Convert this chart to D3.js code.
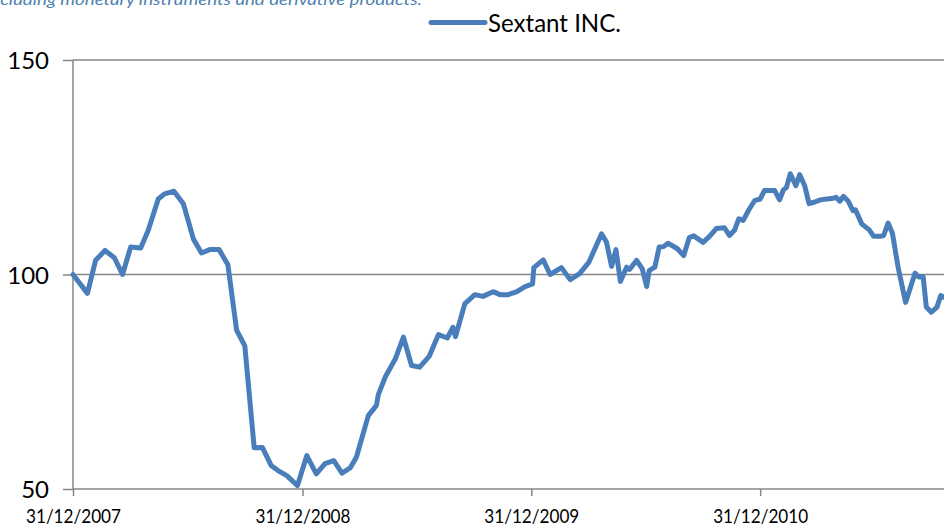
<!DOCTYPE html>
<html>
<head>
<meta charset="utf-8">
<script src="https://cdn.jsdelivr.net/npm/d3@7"></script>
<style>
  html, body { margin: 0; padding: 0; background: #fff; overflow: hidden; }
  svg { display: block; }
  text { font-family: Lato, "Open Sans", "DejaVu Sans", sans-serif; fill: #000; }
</style>
</head>
<body>
<svg id="chart" width="944" height="528"></svg>
<script>
// ---- data ----
const seriesName = "Sextant INC.";
const noteText = "including monetary instruments and derivative products.";
const dates = [
  "2007-12-31","2008-01-23","2008-02-05","2008-02-20","2008-03-06","2008-03-19","2008-04-01","2008-04-17",
  "2008-04-29","2008-05-15","2008-05-25","2008-06-09","2008-06-24","2008-07-10","2008-07-23","2008-08-05",
  "2008-08-20","2008-09-03","2008-09-17","2008-09-30","2008-10-15","2008-10-28","2008-11-11","2008-11-22",
  "2008-12-06","2008-12-23","2009-01-07","2009-01-22","2009-02-05","2009-02-19","2009-03-04","2009-03-17",
  "2009-03-27","2009-04-15","2009-04-28","2009-05-01","2009-05-12","2009-05-28","2009-06-10","2009-06-23",
  "2009-07-06","2009-07-21","2009-08-05","2009-08-19","2009-08-28","2009-09-01","2009-09-16","2009-10-02",
  "2009-10-15","2009-10-31","2009-11-11","2009-11-24","2009-12-08","2009-12-21","2010-01-02","2010-01-04",
  "2010-01-19","2010-01-30","2010-02-17","2010-03-03","2010-03-18","2010-04-02","2010-04-22","2010-04-30",
  "2010-05-08","2010-05-15","2010-05-22","2010-06-01","2010-06-06","2010-06-17","2010-06-26","2010-07-03",
  "2010-07-07","2010-07-16","2010-07-23","2010-07-30","2010-08-06","2010-08-21","2010-08-31","2010-09-09",
  "2010-09-16","2010-10-01","2010-10-12","2010-10-22","2010-11-04","2010-11-12","2010-11-20","2010-11-27",
  "2010-12-04","2010-12-13","2010-12-22","2010-12-31","2011-01-07","2011-01-23","2011-01-31","2011-02-06",
  "2011-02-11","2011-02-17","2011-02-26","2011-03-04","2011-03-12","2011-03-19","2011-03-28","2011-04-06",
  "2011-04-16","2011-04-24","2011-05-01","2011-05-07","2011-05-13","2011-05-20","2011-05-28","2011-06-01",
  "2011-06-11","2011-06-23","2011-06-30","2011-07-10","2011-07-16","2011-07-23","2011-07-30","2011-08-08",
  "2011-08-20","2011-09-04","2011-09-10","2011-09-17","2011-09-22","2011-09-30","2011-10-09","2011-10-15",
  "2011-10-20"
];
const values = [
  100.0, 95.6, 103.3, 105.6, 103.9, 100.0, 106.4, 106.2,
  110.3, 117.6, 118.8, 119.4, 116.5, 108.3, 105.0, 105.8,
  105.8, 102.3, 87.0, 83.4, 59.6, 59.7, 55.5, 54.3,
  53.1, 50.8, 57.8, 53.5, 55.9, 56.6, 53.7, 54.9,
  57.4, 67.1, 69.5, 72.0, 76.1, 80.3, 85.4, 78.8,
  78.4, 80.9, 86.0, 85.2, 87.7, 85.5, 93.2, 95.3,
  94.9, 96.0, 95.3, 95.3, 96.0, 97.2, 97.8, 101.6,
  103.4, 100.0, 101.6, 98.8, 100.2, 102.9, 109.5, 107.5,
  101.9, 105.8, 98.4, 101.7, 101.2, 103.3, 101.3, 97.2,
  100.9, 101.7, 106.4, 106.5, 107.3, 106.0, 104.4, 108.6,
  109.0, 107.5, 109.0, 110.7, 110.9, 109.1, 110.3, 113.0,
  112.6, 115.1, 117.2, 117.6, 119.6, 119.6, 117.4, 119.7,
  120.3, 123.5, 120.7, 123.3, 120.7, 116.5, 116.9, 117.4,
  117.6, 117.7, 118.0, 117.1, 118.2, 117.2, 114.9, 115.1,
  111.8, 110.4, 108.9, 108.9, 109.1, 112.0, 109.6, 101.7,
  93.5, 100.3, 99.4, 99.5, 92.4, 91.2, 92.4, 95.1,
  94.7
];
const xTickDates = ["2007-12-31","2008-12-31","2009-12-31","2010-12-31"];
const xDomain = ["2007-12-31","2011-12-31"];
const yTicks = [50, 100, 150];
const yDomain = [50, 150];

// ---- drawing ----
(function () {
  const parse = d3.timeParse("%Y-%m-%d");
  const fmt = d3.timeFormat("%d/%m/%Y");
  const data = dates.map((d, i) => ({ date: parse(d), value: values[i] }));

  const svg = d3.select("#chart");
  const W = 944;
  const mLeft = 73, mTop = 60, mBottom = 489;
  const yearPx = 229;

  const x = d3.scaleTime().domain(xDomain.map(parse)).range([mLeft, mLeft + 4 * yearPx]);
  const y = d3.scaleLinear().domain(yDomain).range([mBottom, mTop]);

  const axisColor = "#868686";

  // note text (partially cut off at top, as in the source)
  svg.append("text")
    .attr("x", -14).attr("y", 5)
    .attr("textLength", 436).attr("lengthAdjust", "spacingAndGlyphs")
    .style("font-style", "italic")
    .style("font-size", "16px")
    .style("fill", "#4f7fb0")
    .text(noteText);

  // gridlines
  svg.append("g")
    .selectAll("line")
    .data(yTicks.filter(t => t !== yDomain[0]))
    .join("line")
    .attr("x1", mLeft).attr("x2", W + 50)
    .attr("y1", d => y(d)).attr("y2", d => y(d))
    .attr("stroke", axisColor).attr("stroke-width", 1.5);

  // y axis
  const yAxis = d3.axisLeft(y).tickValues(yTicks).tickSize(10).tickPadding(14).tickFormat(d3.format("d"));
  const gy = svg.append("g").attr("transform", `translate(${mLeft},0)`).call(yAxis);
  gy.select(".domain").attr("stroke", axisColor).attr("stroke-width", 1.5).attr("d", `M0,${mTop}V${mBottom}`);
  gy.selectAll(".tick line").attr("stroke", axisColor).attr("stroke-width", 1.5);
  gy.selectAll(".tick text")
    .style("font-size", "24px").style("font-family", "Lato, 'Open Sans', sans-serif")
    .attr("fill", "#000").attr("dy", "0.36em");

  // x axis
  const xAxis = d3.axisBottom(x).tickValues(xTickDates.map(parse)).tickSize(7).tickPadding(13).tickFormat(fmt);
  const gx = svg.append("g").attr("transform", `translate(0,${mBottom})`).call(xAxis);
  gx.select(".domain").attr("stroke", axisColor).attr("stroke-width", 1.5).attr("d", `M${mLeft},0H${W + 50}`);
  gx.selectAll(".tick line").attr("stroke", axisColor).attr("stroke-width", 1.5);
  gx.selectAll(".tick text")
    .style("font-size", "20px").style("font-family", "Lato, 'Open Sans', sans-serif")
    .attr("textLength", 95).attr("lengthAdjust", "spacingAndGlyphs")
    .attr("fill", "#000").attr("dy", "0.71em");

  // series line
  const line = d3.line().x(d => x(d.date)).y(d => y(d.value));
  svg.append("path")
    .datum(data)
    .attr("d", line)
    .attr("fill", "none")
    .attr("stroke", "#4a7ebb")
    .attr("stroke-width", 5)
    .attr("stroke-linejoin", "round")
    .attr("stroke-linecap", "round");

  // legend
  const lg = svg.append("g");
  lg.append("line")
    .attr("x1", 431).attr("x2", 485).attr("y1", 22.5).attr("y2", 22.5)
    .attr("stroke", "#4a7ebb").attr("stroke-width", 5).attr("stroke-linecap", "round");
  lg.append("text")
    .attr("x", 488).attr("y", 32)
    .attr("textLength", 133).attr("lengthAdjust", "spacingAndGlyphs")
    .style("font-size", "25px")
    .text(seriesName);
})();
</script>
</body>
</html>
